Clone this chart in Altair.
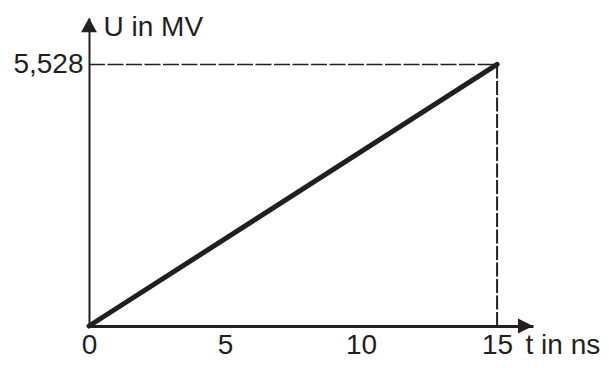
import altair as alt
import pandas as pd

# data
t_values = [0, 15]
u_values = [0, 5.528]
x_ticks = [0, 5, 10, 15]
y_ticks = [5.528]
x_max = 16.32   # end of the time axis (arrow tip)
y_max = 6.51    # end of the voltage axis (arrow tip)

INK = "#231f20"
FONT = "Liberation Sans"

line_df = pd.DataFrame({"t": t_values, "U": u_values})
hdash_df = pd.DataFrame({"x0": [0], "x1": [t_values[-1]], "y": [u_values[-1]]})
vdash_df = pd.DataFrame({"x": [t_values[-1]], "y0": [0], "y1": [u_values[-1]]})
xarrow_df = pd.DataFrame({"x": [x_max], "y": [0]})
yarrow_df = pd.DataFrame({"x": [0], "y": [y_max]})

xscale = alt.Scale(domain=[0, x_max], nice=False, zero=False)
yscale = alt.Scale(domain=[0, y_max], nice=False, zero=False)

x_axis = alt.Axis(
    values=x_ticks, grid=False, ticks=False, tickSize=0,
    labelFontSize=28, labelFont=FONT, labelColor=INK, labelPadding=5,
    labelFlush=False, labelOverlap=False, labelBaseline="top",
    domainColor=INK, domainWidth=3,
    title="t in ns", titleFont=FONT, titleFontSize=28, titleFontWeight="normal",
    titleColor=INK, titleAlign="left", titleBaseline="alphabetic",
    titleX=436, titleY=27, titleAngle=0,
)
y_axis = alt.Axis(
    values=y_ticks, grid=False, ticks=False, tickSize=0,
    labelFontSize=28, labelFont=FONT, labelColor=INK, labelPadding=6,
    labelExpr="replace(format(datum.value, '.3f'), '.', ',')",
    labelOverlap=False, labelFlush=False,
    domainColor=INK, domainWidth=2,
    title="U in MV", titleFont=FONT, titleFontSize=28, titleFontWeight="normal",
    titleColor=INK, titleAlign="left", titleBaseline="alphabetic",
    titleX=14, titleY=17, titleAngle=0,
)

hdash = alt.Chart(hdash_df).mark_rule(
    color=INK, strokeWidth=1.6, strokeDash=[16, 2.5]
).encode(
    x=alt.X("x0:Q", scale=xscale, axis=x_axis),
    x2="x1:Q",
    y=alt.Y("y:Q", scale=yscale, axis=y_axis),
)

vdash = alt.Chart(vdash_df).mark_rule(
    color=INK, strokeWidth=2, strokeDash=[14, 2.5]
).encode(
    x=alt.X("x:Q", scale=xscale),
    y=alt.Y("y0:Q", scale=yscale),
    y2="y1:Q",
)

line = alt.Chart(line_df).mark_line(
    color=INK, strokeWidth=5, strokeCap="round"
).encode(
    x=alt.X("t:Q", scale=xscale),
    y=alt.Y("U:Q", scale=yscale),
)

xarrow = alt.Chart(xarrow_df).mark_point(
    shape="M0,0L-1,-0.5L-1,0.5Z", filled=True, color=INK, opacity=1, size=900
).encode(x=alt.X("x:Q", scale=xscale), y=alt.Y("y:Q", scale=yscale))

yarrow = alt.Chart(yarrow_df).mark_point(
    shape="M0,0L-0.53,0.95L0.53,0.95Z", filled=True, color=INK, opacity=1, size=900
).encode(x=alt.X("x:Q", scale=xscale), y=alt.Y("y:Q", scale=yscale))

chart = alt.layer(hdash, vdash, line, xarrow, yarrow).properties(
    width=444, height=308,
    autosize=alt.AutoSizeParams(type="none"),
    padding={"left": 81, "top": 10, "right": 68, "bottom": 34},
    background="white",
).configure_view(stroke=None)

chart.save("out.html", embed_options={"renderer": "svg", "actions": False})
